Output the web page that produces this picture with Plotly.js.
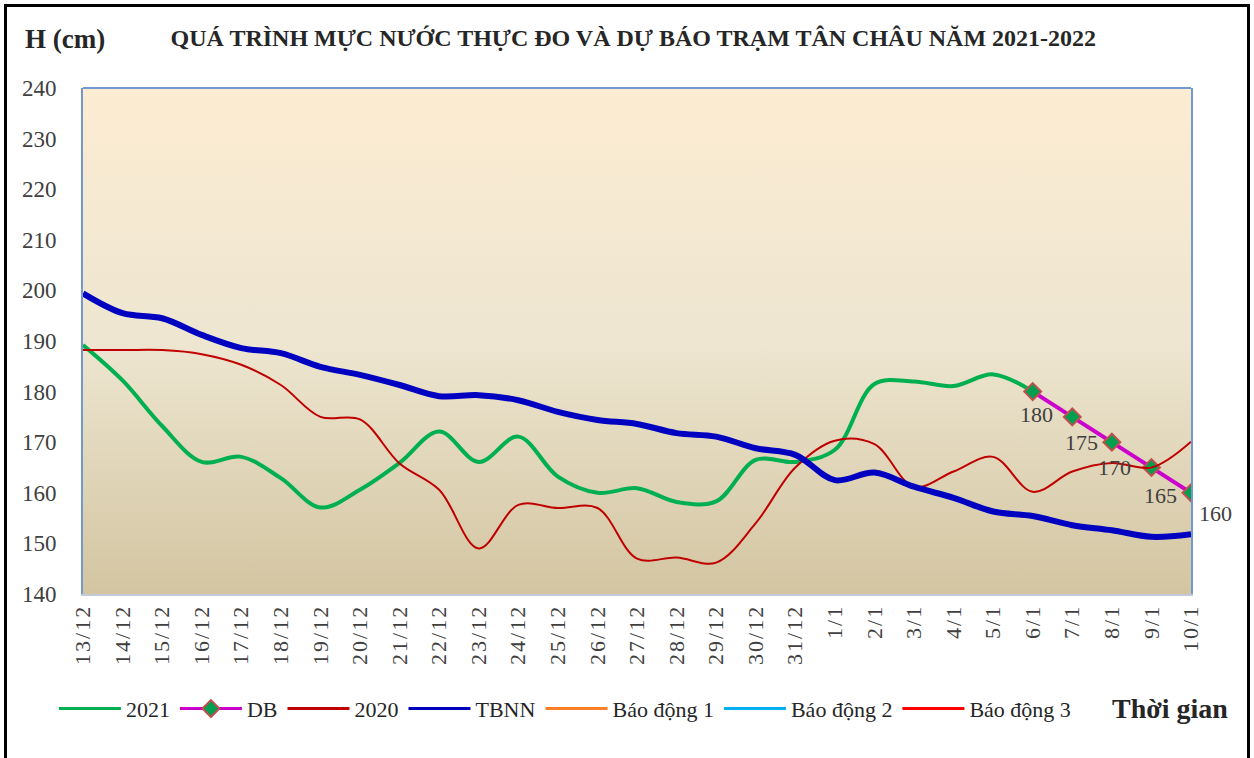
<!DOCTYPE html>
<html>
<head>
<meta charset="utf-8">
<script src="https://cdn.plot.ly/plotly-3.0.1.min.js"></script>
<style>
  html, body { margin: 0; padding: 0; background: #ffffff; }
  #wrap { position: relative; width: 1254px; height: 758px; overflow: hidden; }
  #chart { position: absolute; left: 0; top: 0; width: 1254px; height: 758px; }
  #frame { position: absolute; left: 4px; top: 4px; width: 1240px; height: 800px;
           border-left: 3px solid #000; border-top: 3px solid #000; border-right: 3px solid #000;
           pointer-events: none; }
  .xtick text { letter-spacing: 2px; }
  .legend .legendlines path { stroke-width: 3px !important; }
</style>
</head>
<body>
<div id="wrap">
  <div id="chart"></div>
  <div id="frame"></div>
</div>
<script>
// ---- data ----
const categories = ['13/12','14/12','15/12','16/12','17/12','18/12','19/12','20/12','21/12','22/12',
  '23/12','24/12','25/12','26/12','27/12','28/12','29/12','30/12','31/12',
  '1/1','2/1','3/1','4/1','5/1','6/1','7/1','8/1','9/1','10/1'];

const y2021 = [189.2, 182.2, 173.2, 166.1, 167.1, 162.9, 157.1, 160.6, 165.9, 172.1,
  166.1, 171.1, 163.2, 160.0, 160.9, 158.2, 158.3, 166.5, 166.1,
  168.5, 181.5, 182.0, 181.1, 183.4, 180.0, null, null, null, null];

const yDB = [null, null, null, null, null, null, null, null, null, null,
  null, null, null, null, null, null, null, null, null,
  null, null, null, null, null, 180, 175, 170, 165, 160];

const y2020 = [188.2, 188.2, 188.2, 187.4, 185.3, 181.3, 175.0, 174.5, 165.8, 160.6,
  149.0, 157.6, 157.0, 157.0, 147.0, 147.2, 146.2, 154.0, 165.0,
  170.3, 169.6, 161.2, 164.2, 167.1, 160.2, 164.2, 165.9, 165.0, 170.1];

const yTBNN = [199.4, 195.5, 194.5, 191.2, 188.6, 187.6, 184.9, 183.3, 181.3, 179.1,
  179.3, 178.3, 176.0, 174.4, 173.6, 171.8, 171.1, 168.8, 167.5,
  162.5, 164.0, 161.2, 159.0, 156.3, 155.4, 153.6, 152.6, 151.3, 151.8];

const yBD1 = [350,350,350,350,350,350,350,350,350,350,350,350,350,350,350,350,350,350,350,350,350,350,350,350,350,350,350,350,350];
const yBD2 = [400,400,400,400,400,400,400,400,400,400,400,400,400,400,400,400,400,400,400,400,400,400,400,400,400,400,400,400,400];
const yBD3 = [450,450,450,450,450,450,450,450,450,450,450,450,450,450,450,450,450,450,450,450,450,450,450,450,450,450,450,450,450];

const yTicks = [140, 150, 160, 170, 180, 190, 200, 210, 220, 230, 240];

// ---- styling ----
const serif = 'Liberation Serif, Times New Roman, serif';
const labelShiftX = [4, 9, 3, 9, 24];
const labelShiftY = [-23, -26, -25, -28, -21];

const traces = [
  { name: '2021', x: categories, y: y2021, type: 'scatter', mode: 'lines',
    line: { color: '#00b050', width: 4, shape: 'spline', smoothing: 1 } },
  { name: 'DB', x: categories, y: yDB, type: 'scatter', mode: 'lines+markers',
    line: { color: '#cc00cc', width: 4 },
    marker: { symbol: 'diamond', size: 13, color: '#00a050', line: { color: '#c0504d', width: 2 } } },
  { name: '2020', x: categories, y: y2020, type: 'scatter', mode: 'lines',
    line: { color: '#c00000', width: 2, shape: 'spline', smoothing: 1 } },
  { name: 'TBNN', x: categories, y: yTBNN, type: 'scatter', mode: 'lines',
    line: { color: '#0000c0', width: 6, shape: 'spline', smoothing: 1 } },
  { name: 'Báo động 1', x: categories, y: yBD1, type: 'scatter', mode: 'lines',
    line: { color: '#ff7f27', width: 2 } },
  { name: 'Báo động 2', x: categories, y: yBD2, type: 'scatter', mode: 'lines',
    line: { color: '#00b0f0', width: 2 } },
  { name: 'Báo động 3', x: categories, y: yBD3, type: 'scatter', mode: 'lines',
    line: { color: '#ff0000', width: 2 } }
];

// data labels for the forecast series
const annotations = [];
let k = 0;
yDB.forEach((v, i) => {
  if (v !== null) {
    annotations.push({ x: categories[i], y: v, xref: 'x', yref: 'y', text: String(v),
      showarrow: false, xshift: labelShiftX[k], yshift: labelShiftY[k],
      font: { family: serif, size: 22, color: '#404040' } });
    k++;
  }
});
annotations.push({ text: '<b>H (cm)</b>', xref: 'paper', yref: 'paper', x: -0.016, y: 1.096,
  xanchor: 'center', yanchor: 'middle', showarrow: false,
  font: { family: serif, size: 27, color: '#262626' } });
annotations.push({ text: '<b>Thời gian</b>', xref: 'paper', yref: 'paper', x: 0.981, y: -0.227,
  xanchor: 'center', yanchor: 'middle', showarrow: false,
  font: { family: serif, size: 28, color: '#262626' } });

const gradSvg = '<svg xmlns="http://www.w3.org/2000/svg" width="10" height="100" preserveAspectRatio="none">' +
  '<defs><linearGradient id="g" x1="0" y1="0" x2="0" y2="1">' +
  '<stop offset="0" stop-color="#fcecd2"/><stop offset="0.5" stop-color="#eee6d1"/>' +
  '<stop offset="1" stop-color="#d3c5a1"/></linearGradient></defs>' +
  '<rect width="10" height="100" fill="url(#g)"/></svg>';

const layout = {
  width: 1254, height: 758,
  margin: { l: 83, r: 63, t: 88, b: 164, pad: 0 },
  paper_bgcolor: 'rgba(0,0,0,0)',
  plot_bgcolor: 'rgba(0,0,0,0)',
  showlegend: true,
  title: { text: '<b>QUÁ TRÌNH MỰC NƯỚC THỰC ĐO VÀ DỰ BÁO TRẠM TÂN CHÂU NĂM 2021-2022</b>',
    xref: 'container', yref: 'container', x: 0.505, y: 0.951, xanchor: 'center', yanchor: 'middle',
    font: { family: serif, size: 24, color: '#262626' } },
  xaxis: {
    type: 'category', categoryorder: 'array', categoryarray: categories,
    range: [0, categories.length - 1], tickangle: -90,
    tickfont: { family: serif, size: 22, color: '#404040' },
    showgrid: false, zeroline: false, showline: true, linecolor: '#c3c9d6', linewidth: 2,
    ticks: '', fixedrange: true
  },
  yaxis: {
    range: [140, 240], tickvals: yTicks, ticktext: yTicks.map(String),
    tickfont: { family: serif, size: 23, color: '#404040' },
    showgrid: false, zeroline: false, showline: true, mirror: true,
    linecolor: '#7199cf', linewidth: 2, ticks: '', ticklabelstandoff: 20, fixedrange: true
  },
  legend: {
    orientation: 'h', xref: 'container', yref: 'container', x: 0.043, y: 0.065,
    xanchor: 'left', yanchor: 'middle', bgcolor: 'rgba(0,0,0,0)',
    font: { family: serif, size: 22, color: '#262626' }, itemwidth: 62, tracegroupgap: 0
  },
  shapes: [
    { type: 'line', xref: 'paper', yref: 'paper', x0: 0, x1: 1, y0: 1, y1: 1,
      line: { color: '#7199cf', width: 2 } }
  ],
  images: [
    { source: 'data:image/svg+xml;charset=utf-8,' + encodeURIComponent(gradSvg),
      xref: 'paper', yref: 'paper', x: 0, y: 1, sizex: 1, sizey: 1,
      xanchor: 'left', yanchor: 'top', sizing: 'stretch', layer: 'below' }
  ],
  annotations: annotations
};

Plotly.newPlot('chart', traces, layout, { displayModeBar: false, staticPlot: true });
</script>
</body>
</html>
